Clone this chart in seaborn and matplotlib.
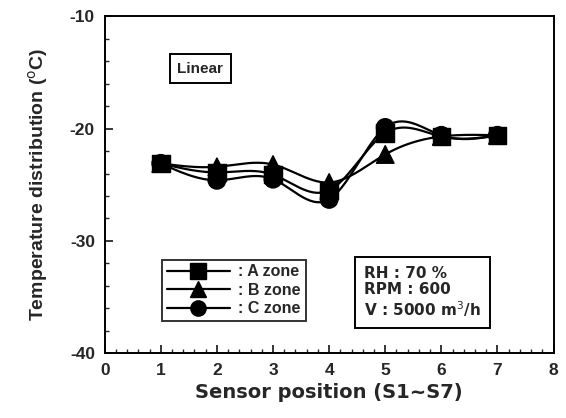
import numpy as np
import pandas as pd
import matplotlib
matplotlib.use("Agg")
import matplotlib.pyplot as plt
import seaborn as sns
from matplotlib.lines import Line2D
from matplotlib.ticker import MultipleLocator

# ---- data ----
positions = [1, 2, 3, 4, 5, 6, 7]
zone_a = [-23.1, -23.9, -24.1, -25.5, -20.4, -20.7, -20.6]
zone_b = [-23.1, -23.4, -23.2, -24.8, -22.3, -20.7, -20.6]
zone_c = [-23.1, -24.6, -24.5, -26.3, -19.9, -20.6, -20.6]
zone_labels = [": A zone", ": B zone", ": C zone"]
zone_markers = ["s", "^", "o"]
x_ticks = [0, 1, 2, 3, 4, 5, 6, 7, 8]
y_ticks = [-40, -30, -20, -10]

sns.set_theme(style="ticks")
plt.rcParams['font.family'] = ['Liberation Sans', 'DejaVu Sans']
plt.rcParams['axes.unicode_minus'] = False


def natural_spline(x, y, n=200):
    x = np.asarray(x, float); y = np.asarray(y, float)
    k = len(x)
    h = np.diff(x)
    A = np.zeros((k, k)); r = np.zeros(k)
    A[0, 0] = 1; A[-1, -1] = 1
    for i in range(1, k - 1):
        A[i, i - 1] = h[i - 1]; A[i, i] = 2 * (h[i - 1] + h[i]); A[i, i + 1] = h[i]
        r[i] = 6 * ((y[i + 1] - y[i]) / h[i] - (y[i] - y[i - 1]) / h[i - 1])
    M = np.linalg.solve(A, r)
    xs = np.linspace(x[0], x[-1], n)
    idx = np.clip(np.searchsorted(x, xs) - 1, 0, k - 2)
    x0, x1 = x[idx], x[idx + 1]; hh = x1 - x0
    ys = (M[idx] * (x1 - xs) ** 3 / (6 * hh) + M[idx + 1] * (xs - x0) ** 3 / (6 * hh)
          + (y[idx] / hh - M[idx] * hh / 6) * (x1 - xs)
          + (y[idx + 1] / hh - M[idx + 1] * hh / 6) * (xs - x0))
    return xs, ys


fig = plt.figure(figsize=(5.66, 4.18), dpi=100)
ax = fig.add_axes([0.185, 0.155, 0.793, 0.806])

df = pd.DataFrame({
    "pos": positions * 3,
    "temp": zone_a + zone_b + zone_c,
    "zone": sum([[z] * len(positions) for z in zone_labels], []),
})

for lab, mk, vals in zip(zone_labels, zone_markers, [zone_a, zone_b, zone_c]):
    xs, ys = natural_spline(positions, vals)
    sns.lineplot(x=xs, y=ys, ax=ax, color="black", linewidth=1.6, legend=False)
sns.scatterplot(data=df, x="pos", y="temp", style="zone", markers=dict(zip(zone_labels, zone_markers)),
                color="black", s=160, edgecolor="black", ax=ax, legend=False, zorder=5)

ax.set_xlim(0, 8)
ax.set_ylim(-40, -10)
ax.set_xticks(x_ticks)
ax.set_yticks(y_ticks)
ax.xaxis.set_minor_locator(MultipleLocator(0.2))
ax.yaxis.set_minor_locator(MultipleLocator(2))
ax.tick_params(axis="both", which="major", direction="in", length=6, width=1.3,
               labelsize=12.5, pad=7)
ax.tick_params(axis="both", which="minor", direction="in", length=3, width=1)
for lbl in ax.get_xticklabels() + ax.get_yticklabels():
    lbl.set_fontweight("bold")
for s in ax.spines.values():
    s.set_linewidth(1.4)
    s.set_color("black")

ax.set_xlabel("Sensor position (S1~S7)", fontsize=14, fontweight="bold",
              family=["DejaVu Sans"], labelpad=4)
ax.set_ylabel(r"Temperature distribution ($^{\rm o}$C)", fontsize=14, fontweight="bold",
              family=["Liberation Sans Narrow", "Liberation Sans"], labelpad=14)

ax.text(1.7, -14.65, "Linear", fontsize=11, fontweight="bold", ha="center", va="center",
        bbox=dict(boxstyle="square,pad=0.5", fc="white", ec="black", lw=1.4))

handles = [Line2D([0], [0], color="black", lw=1.6, marker=m, markersize=11)
           for m in zone_markers]
leg = ax.legend(handles, zone_labels, loc="lower left", bbox_to_anchor=(0.127, 0.095),
                frameon=True, fancybox=False, edgecolor="black", fontsize=11.5,
                handlelength=4.0, handletextpad=0.5, borderpad=0.3, labelspacing=0.22,
                borderaxespad=0)
leg.get_frame().set_linewidth(1.4)
for t in leg.get_texts():
    t.set_fontweight("bold")

ax.text(4.62, -34.6, "RH : 70 %\nRPM : 600\nV : 5000 m$^3$/h", fontsize=11,
        fontweight="bold", family=["DejaVu Sans"], ha="left", va="center", linespacing=1.1,
        bbox=dict(boxstyle="square,pad=0.6", fc="white", ec="black", lw=1.4))

fig.savefig("out.png", dpi=100)
